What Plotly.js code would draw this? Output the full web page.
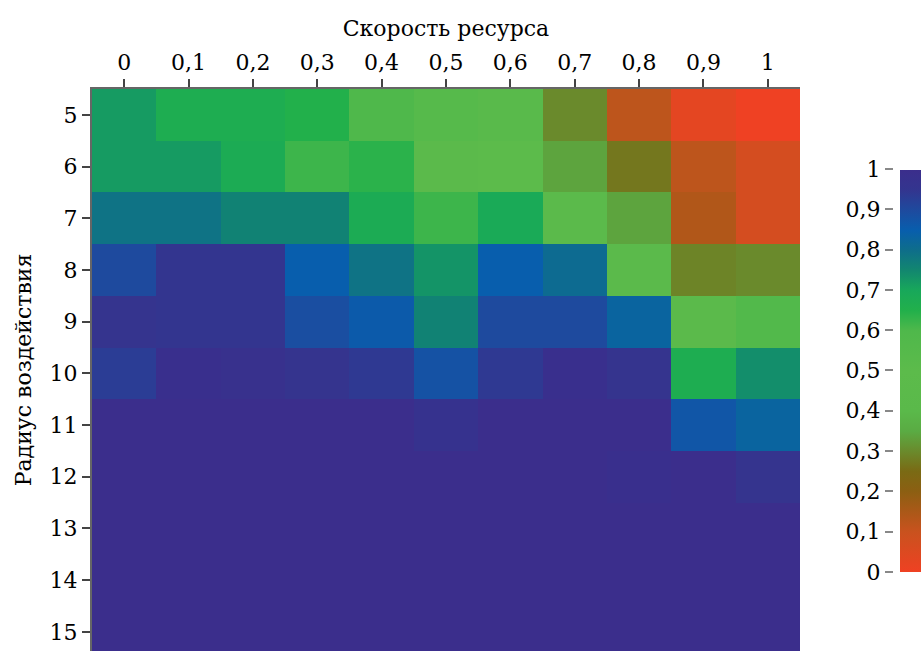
<!DOCTYPE html>
<html>
<head>
<meta charset="utf-8">
<script src="https://cdn.plot.ly/plotly-3.0.1.min.js"></script>
<style>html,body{margin:0;padding:0;background:#fff;}#chart{width:921px;height:651px;}</style>
</head>
<body>
<div id="chart"></div>
<script>
// Categories
var speeds = [0, 0.1, 0.2, 0.3, 0.4, 0.5, 0.6, 0.7, 0.8, 0.9, 1];
var speedLabels = ['0', '0,1', '0,2', '0,3', '0,4', '0,5', '0,6', '0,7', '0,8', '0,9', '1'];
var radii = [5, 6, 7, 8, 9, 10, 11, 12, 13, 14, 15];
var radiusLabels = ['5', '6', '7', '8', '9', '10', '11', '12', '13', '14', '15'];

// Values per radius row
var r5  = [0.72, 0.67, 0.67, 0.65, 0.60, 0.55, 0.52, 0.30, 0.12, 0.03, 0.00];
var r6  = [0.72, 0.72, 0.68, 0.62, 0.64, 0.45, 0.50, 0.34, 0.27, 0.12, 0.07];
var r7  = [0.79, 0.79, 0.76, 0.76, 0.68, 0.62, 0.69, 0.45, 0.34, 0.14, 0.07];
var r8  = [0.90, 0.95, 0.95, 0.85, 0.79, 0.73, 0.85, 0.81, 0.45, 0.29, 0.30];
var r9  = [0.96, 0.95, 0.95, 0.89, 0.86, 0.76, 0.90, 0.90, 0.83, 0.45, 0.58];
var r10 = [0.93, 0.99, 0.98, 0.96, 0.94, 0.88, 0.94, 0.99, 0.96, 0.67, 0.74];
var r11 = [1.00, 1.00, 1.00, 1.00, 1.00, 0.97, 1.00, 1.00, 1.00, 0.87, 0.83];
var r12 = [1.00, 1.00, 1.00, 1.00, 1.00, 1.00, 1.00, 1.00, 0.99, 1.00, 0.96];
var r13 = [1.00, 1.00, 1.00, 1.00, 1.00, 1.00, 1.00, 1.00, 1.00, 1.00, 1.00];
var r14 = [1.00, 1.00, 1.00, 1.00, 1.00, 1.00, 1.00, 1.00, 1.00, 1.00, 1.00];
var r15 = [1.00, 1.00, 1.00, 1.00, 1.00, 1.00, 1.00, 1.00, 1.00, 1.00, 1.00];

var cbTicks = [0, 0.1, 0.2, 0.3, 0.4, 0.5, 0.6, 0.7, 0.8, 0.9, 1];
var cbLabels = ['0', '0,1', '0,2', '0,3', '0,4', '0,5', '0,6', '0,7', '0,8', '0,9', '1'];

var colorscale = [
  [0.00, '#ef4123'],
  [0.10, '#c9521e'],
  [0.20, '#8c5f12'],
  [0.25, '#7a6a14'],
  [0.30, '#6a8a2c'],
  [0.35, '#5aab43'],
  [0.40, '#5ab94a'],
  [0.50, '#5cbb4b'],
  [0.60, '#4fb84b'],
  [0.65, '#22b04b'],
  [0.70, '#18a85a'],
  [0.75, '#12876f'],
  [0.80, '#0e6e8a'],
  [0.85, '#085ead'],
  [0.90, '#1e4a9e'],
  [0.95, '#33358f'],
  [1.00, '#3b2e8c']
];

var font = 'DejaVu Serif, Liberation Serif, serif';

var heat = {
  type: 'heatmap',
  x: speeds,
  y: radii,
  z: [r5, r6, r7, r8, r9, r10, r11, r12, r13, r14, r15],
  zmin: 0, zmax: 1,
  colorscale: colorscale,
  xgap: 0, ygap: 0,
  colorbar: {
    x: 0.9747, xanchor: 'left', xpad: 0,
    y: 0.1406, yanchor: 'bottom', ypad: 0,
    len: 0.716, lenmode: 'fraction',
    thickness: 30,
    outlinewidth: 0,
    showticklabels: false,
    ticks: ''
  }
};

var dummy = {
  type: 'scatter', x: [], y: [], xaxis: 'x2', yaxis: 'y2',
  showlegend: false, hoverinfo: 'skip'
};

var layout = {
  width: 921, height: 651,
  margin: {l: 92, r: 0, t: 89, b: 0, pad: 0, autoexpand: false},
  paper_bgcolor: '#ffffff',
  plot_bgcolor: 'rgba(0,0,0,0)',
  font: {family: font, size: 22, color: '#000'},
  separators: ', ',
  showlegend: false,
  xaxis: {
    domain: [0, 0.854],
    side: 'top',
    range: [-0.05, 1.05],
    tickvals: speeds,
    ticktext: speedLabels,
    ticks: 'outside', ticklen: 8, tickwidth: 2, tickcolor: '#444',
    showline: true, linecolor: '#666', linewidth: 2,
    showgrid: false, zeroline: false, automargin: false,
    tickfont: {family: font, size: 22},
    title: {text: 'Скорость ресурса', font: {family: font, size: 22}, standoff: 8}
  },
  yaxis: {
    range: [15.37, 4.5],
    tickvals: radii,
    ticktext: radiusLabels,
    ticks: 'outside', ticklen: 8, tickwidth: 2, tickcolor: '#444',
    showline: true, linecolor: '#666', linewidth: 2,
    showgrid: false, zeroline: false, automargin: false,
    tickfont: {family: font, size: 22},
    title: {text: 'Радиус воздействия', font: {family: font, size: 22}, standoff: 12}
  },
  xaxis2: {domain: [0.97, 1], visible: false, anchor: 'y2', range: [0, 1]},
  yaxis2: {
    domain: [0.1406, 0.8577],
    anchor: 'free', position: 0.9662, side: 'left',
    range: [0, 1],
    tickvals: cbTicks, ticktext: cbLabels,
    ticks: 'outside', ticklen: 8, tickwidth: 2, tickcolor: '#888',
    showline: false, showgrid: false, zeroline: false, automargin: false,
    tickfont: {family: font, size: 22}
  }
};

Plotly.newPlot('chart', [heat, dummy], layout, {displayModeBar: false, staticPlot: true});
</script>
</body>
</html>
